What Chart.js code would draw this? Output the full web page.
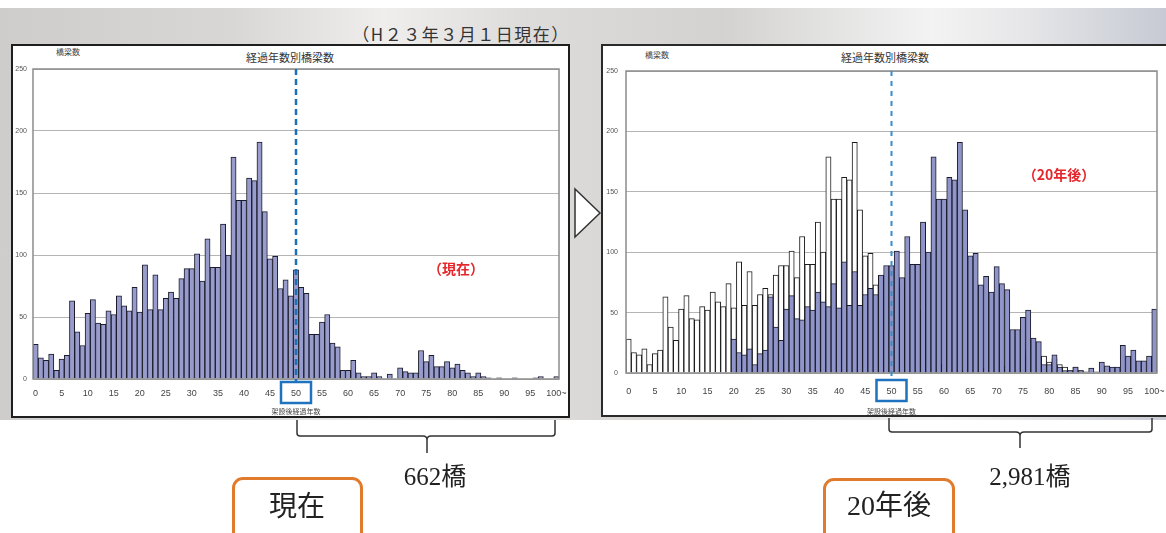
<!DOCTYPE html>
<html lang="ja">
<head>
<meta charset="UTF-8">
<title>経過年数別橋梁数</title>
<script src="https://cdn.jsdelivr.net/npm/chart.js"></script>
<style>
    body { margin: 0; width: 1166px; height: 533px; overflow: hidden; background: #fff; position: relative;
           font-family: "Noto Sans CJK JP", sans-serif; color: #222; }
    .abs { position: absolute; }
    .c { position: absolute; transform: translate(-50%, -50%); white-space: nowrap; line-height: 1; }
    #bg { left: 0; top: 8px; width: 1166px; height: 412px;
          background: linear-gradient(90deg, #cfcdcb 0%, #d9d7d5 20%, #efeeed 33%, #dedcda 45%, #d3d2d1 62%, #f3f3f3 80%, #e6e6e8 88%, #c7cad4 100%); }
    .panel { background: #fff; box-sizing: border-box; }
    .serif { font-family: "Liberation Serif", "DejaVu Serif", "Noto Sans CJK JP", serif; color: #222; }
    .box { position: absolute; box-sizing: border-box; border: 3px solid #e07b2e; border-radius: 11px; background: #fff; }
    canvas { position: absolute; }
</style>
<script>
    // 経過年数 0〜100年（100〜 は100年以上）
    const ageCategories = Array.from({ length: 101 }, (_, i) => String(i));
    const tickLabels = ['0', '5', '10', '15', '20', '25', '30', '35', '40', '45', '50',
                        '55', '60', '65', '70', '75', '80', '85', '90', '95', '100~'];

    // 現在（H23年3月1日）の橋梁数
    const bridgesNow = [
        28, 17, 15, 20, 7, 16, 19, 63, 38, 27,
        53, 64, 45, 44, 55, 52, 67, 59, 55, 74,
        54, 92, 56, 84, 56, 65, 70, 65, 81, 89,
        89, 101, 79, 113, 90, 90, 125, 100, 179, 144,
        144, 162, 160, 191, 135, 97, 99, 73, 80, 67,
        88, 74, 69, 36, 36, 46, 52, 29, 26, 7,
        7, 15, 5, 2, 2, 5, 2, 0, 4, 0,
        9, 6, 5, 5, 23, 14, 19, 10, 10, 14,
        9, 12, 7, 5, 2, 5, 2, 1, 0, 1,
        0, 0, 1, 0, 0, 0, 1, 2, 0, 0,
        2
    ];

    // 20年後の橋梁数
    const bridgesAfter20 = [
        0, 0, 0, 0, 0, 0, 0, 0, 0, 0,
        0, 0, 0, 0, 0, 0, 0, 0, 0, 0,
        28, 17, 15, 20, 7, 16, 19, 63, 38, 27,
        53, 64, 45, 44, 55, 52, 67, 59, 55, 74,
        54, 92, 56, 84, 56, 65, 70, 65, 81, 89,
        89, 101, 79, 113, 90, 90, 125, 100, 179, 144,
        144, 162, 160, 191, 135, 97, 99, 73, 80, 67,
        88, 74, 69, 36, 36, 46, 52, 29, 26, 7,
        7, 15, 5, 2, 2, 5, 2, 0, 4, 0,
        9, 6, 5, 5, 23, 14, 19, 10, 10, 14,
        53
    ];

    const markAge = 50; // 50年の線

    // 枠線と50年の点線・囲み
    const markerPlugin = {
        id: 'marker',
        afterDatasetsDraw(chart, args, opts) {
            const { ctx, chartArea, scales } = chart;
            ctx.save();
            ctx.strokeStyle = '#8c8c8c';
            ctx.lineWidth = 1.5;
            ctx.strokeRect(chartArea.left, chartArea.top, chartArea.width, chartArea.height);

            const x = scales.x.getPixelForValue(markAge);
            ctx.strokeStyle = opts.color;
            ctx.lineWidth = opts.width;
            ctx.setLineDash(opts.dash);
            ctx.beginPath();
            ctx.moveTo(x, chartArea.top);
            ctx.lineTo(x, chartArea.bottom + opts.boxTop);
            ctx.stroke();
            ctx.setLineDash([]);
            ctx.strokeStyle = '#1f72bd';
            ctx.lineWidth = 2.5;
            ctx.strokeRect(x - 15, chartArea.bottom + opts.boxTop, 30, 21);
            ctx.restore();
        }
    };

    function makeOptions(yWidth, yPad, xHeight, xPad, padTop, marker) {
        return {
            responsive: false,
            animation: false,
            layout: { padding: { top: padTop, right: 9, left: 0, bottom: 0 } },
            plugins: { legend: { display: false }, tooltip: { enabled: false }, marker: marker },
            scales: {
                x: {
                    grid: { display: false, drawTicks: false },
                    border: { display: false },
                    ticks: {
                        autoSkip: false, maxRotation: 0, padding: xPad,
                        color: '#444', font: { family: 'Liberation Sans', size: 9 },
                        callback: (v, i) => (i % 5 === 0 ? tickLabels[i / 5] : '')
                    },
                    title: { display: true, text: '架設後経過年数', padding: 0, color: '#444',
                             font: { family: 'Noto Sans CJK JP', size: 7 } },
                    afterFit: s => { s.height = xHeight; s.paddingLeft = 0; s.paddingRight = 0; }
                },
                y: {
                    min: 0, max: 250,
                    grid: { color: '#b5b5b5', drawTicks: false },
                    border: { display: false },
                    ticks: { stepSize: 50, padding: yPad, color: '#555',
                             font: { family: 'Liberation Sans', size: 7 } },
                    afterFit: s => { s.width = yWidth; s.paddingTop = 0; s.paddingBottom = 0; }
                }
            }
        };
    }

    window.onload = function () {
        new Chart(document.getElementById('nowChart'), {
            type: 'bar',
            data: {
                labels: ageCategories,
                datasets: [{
                    data: bridgesNow,
                    backgroundColor: '#989ccc',
                    borderColor: '#1b1b2b',
                    borderWidth: 1,
                    barPercentage: 1, categoryPercentage: 1
                }]
            },
            options: makeOptions(21, 6, 37, 9, 23, { color: '#1a6fb8', width: 2.5, dash: [6, 4], boxTop: 3 }),
            plugins: [markerPlugin]
        });

        new Chart(document.getElementById('laterChart'), {
            type: 'bar',
            data: {
                labels: ageCategories,
                datasets: [{
                    // 現在の分布（白抜き・後ろ）
                    data: bridgesNow,
                    backgroundColor: '#ffffff',
                    borderColor: '#1b1b1b',
                    borderWidth: 1,
                    grouped: false,
                    order: 1,
                    barPercentage: 1, categoryPercentage: 1
                }, {
                    // 20年後（前面）
                    data: bridgesAfter20,
                    backgroundColor: '#9095c9',
                    borderColor: '#1b1b2b',
                    borderWidth: 1,
                    grouped: false,
                    order: 0,
                    barPercentage: 1, categoryPercentage: 1
                }]
            },
            options: makeOptions(22, 8, 43, 13, 25, { color: '#3a8ccc', width: 2, dash: [5, 5], boxTop: 7 }),
            plugins: [markerPlugin]
        });
    };
</script>
</head>
<body>
    <div id="bg" class="abs"></div>
    <div class="c" style="left:461px; top:33px; font-size:17px; letter-spacing:1.5px; color:#333;">（H２３年３月１日現在）</div>

    <!-- 左：現在 -->
    <div class="abs panel" style="left:11px; top:44px; width:559px; height:374px; border:2px solid #1e1e1e;"></div>
    <div class="c" style="left:290px; top:57px; font-size:11px; color:#333;">経過年数別橋梁数</div>
    <div class="c" style="left:68px; top:52px; font-size:8px; color:#444;">橋梁数</div>
    <canvas id="nowChart" width="556" height="370" style="left:12px; top:46px;"></canvas>
    <div class="c" style="left:456px; top:268px; font-size:14px; font-weight:bold; color:#e5262b;">（現在）</div>

    <!-- 右：20年後 -->
    <div class="abs panel" style="left:601px; top:44px; width:570px; height:373px; border:2px solid #2a2a2a;"></div>
    <div class="c" style="left:885px; top:57px; font-size:11px; color:#333;">経過年数別橋梁数</div>
    <div class="c" style="left:657px; top:55px; font-size:8px; color:#444;">橋梁数</div>
    <canvas id="laterChart" width="562" height="370" style="left:604px; top:46px;"></canvas>
    <div class="c" style="left:1059px; top:174px; font-size:14px; font-weight:bold; color:#e5262b;">（20年後）</div>

    <!-- 矢印と括弧 -->
    <svg class="abs" style="left:0; top:0;" width="1166" height="533">
        <polygon points="575,189 575,237 600,213" fill="#fff" stroke="#333" stroke-width="1.5" />
        <path d="M297,420 L297,433 Q297,436 300,436 L423,436 Q427,436 427,440 L427,453 M427,440 Q427,436 431,436 L552,436 Q555,436 555,433 L555,420"
              fill="none" stroke="#333" stroke-width="1.5" />
        <path d="M889,418 L889,429 Q889,432 892,432 L1016,432 Q1020,432 1020,436 L1020,448 M1020,436 Q1020,432 1024,432 L1149,432 Q1152,432 1152,429 L1152,418"
              fill="none" stroke="#333" stroke-width="1.5" />
    </svg>

    <div class="c serif" style="left:435px; top:476px; font-size:25px;">662橋</div>
    <div class="c serif" style="left:1030px; top:476px; font-size:25px;">2,981橋</div>

    <div class="box" style="left:232px; top:477px; width:131px; height:80px;"></div>
    <div class="c serif" style="left:297px; top:507px; font-size:28px;">現在</div>
    <div class="box" style="left:823px; top:478px; width:132px; height:80px;"></div>
    <div class="c serif" style="left:889px; top:506px; font-size:28px;">20年後</div>
</body>
</html>
